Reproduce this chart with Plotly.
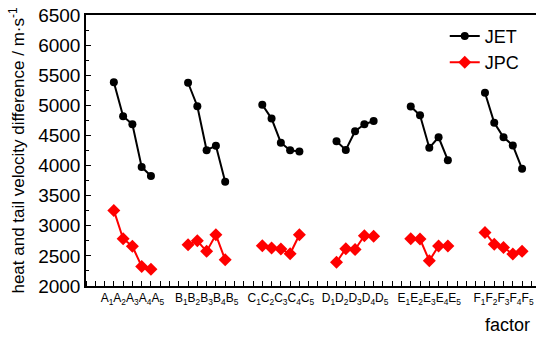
import plotly.graph_objects as go

groups = ["A", "B", "C", "D", "E", "F"]
levels = [1, 2, 3, 4, 5]

jet = {
    "A": [5385, 4820, 4685, 3975, 3825],
    "B": [5375, 4985, 4255, 4330, 3730],
    "C": [5010, 4780, 4380, 4255, 4235],
    "D": [4405, 4260, 4570, 4685, 4740],
    "E": [4980, 4835, 4295, 4470, 4090],
    "F": [5210, 4710, 4470, 4335, 3945],
}
jpc = {
    "A": [3255, 2785, 2660, 2325, 2280],
    "B": [2685, 2750, 2575, 2850, 2435],
    "C": [2670, 2630, 2615, 2535, 2850],
    "D": [2395, 2620, 2605, 2835, 2825],
    "E": [2785, 2780, 2420, 2665, 2665],
    "F": [2890, 2695, 2640, 2530, 2575],
}

first_slot = 3
group_step = 8


def build(series):
    xs, ys = [], []
    for gi, g in enumerate(groups):
        for li, v in enumerate(series[g]):
            xs.append(first_slot + gi * group_step + li)
            ys.append(v)
        xs.append(None)
        ys.append(None)
    return xs, ys


fig = go.Figure()
x1, y1 = build(jet)
fig.add_trace(go.Scatter(x=x1, y=y1, mode="lines+markers", name="JET",
                         line=dict(color="black", width=2),
                         marker=dict(symbol="circle", size=8, color="black")))
x2, y2 = build(jpc)
fig.add_trace(go.Scatter(x=x2, y=y2, mode="lines+markers", name="JPC",
                         line=dict(color="#ff0000", width=2),
                         marker=dict(symbol="diamond", size=10, color="#ff0000")))

tickvals = [first_slot + gi * group_step + 2 for gi in range(len(groups))]
ticktext = ["".join(f"{g}<sub>{l}</sub>" for l in levels) for g in groups]

fig.update_layout(
    width=536, height=337,
    margin=dict(l=86, r=0, t=15, b=51),
    plot_bgcolor="white", paper_bgcolor="white",
    font=dict(family="Liberation Sans, Arial, sans-serif", color="black"),
    showlegend=True,
    legend=dict(x=0.975, xanchor="right", y=0.99, yanchor="top",
                font=dict(size=18), bgcolor="rgba(0,0,0,0)",
                itemwidth=30, tracegroupgap=0),
)
fig.update_xaxes(
    range=[0, 48.5], showgrid=False, zeroline=False,
    showline=True, linecolor="black", linewidth=1.5, mirror=True,
    tickmode="array", tickvals=tickvals, ticktext=ticktext,
    ticks="", tickfont=dict(size=12),
    minor=dict(tickmode="linear", tick0=0, dtick=1, ticks="inside",
               ticklen=5, tickcolor="black", tickwidth=1),
)
fig.update_yaxes(
    range=[2000, 6500], showgrid=False, zeroline=False,
    showline=True, linecolor="black", linewidth=1.5,
    tickmode="linear", tick0=2000, dtick=500,
    ticks="inside", ticklen=5, tickcolor="black", tickwidth=1,
    tickfont=dict(size=19),
    minor=dict(tickmode="linear", dtick=250, ticks="inside", ticklen=3,
               tickcolor="black"),
    title=dict(text="heat and tail velocity difference / m·s<sup>-1</sup>",
               font=dict(size=17), standoff=9),
)
fig.add_annotation(text="factor", xref="paper", yref="paper", x=1, y=0,
                   xanchor="right", yanchor="top", yshift=-27, xshift=-4,
                   showarrow=False, font=dict(size=18))

fig.write_html("out.html", config={"displayModeBar": False},
               post_script="document.body.style.margin='0';")
